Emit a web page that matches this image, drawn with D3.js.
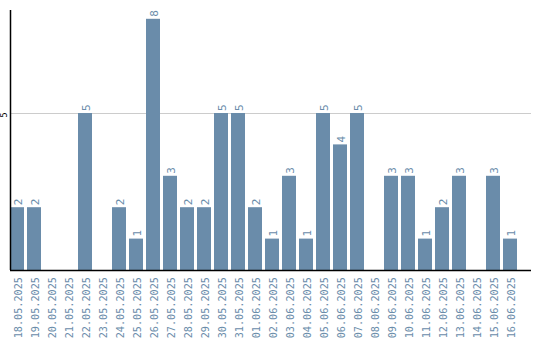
<!DOCTYPE html>
<html>
<head>
<meta charset="utf-8">
<script src="https://cdn.jsdelivr.net/npm/d3@7"></script>
<style>
  body { margin: 0; background: #fff; }
  svg { display: block; }
</style>
</head>
<body>
<div id="chart"></div>
<script>
var dates = ["18.05.2025","19.05.2025","20.05.2025","21.05.2025","22.05.2025","23.05.2025",
  "24.05.2025","25.05.2025","26.05.2025","27.05.2025","28.05.2025","29.05.2025","30.05.2025",
  "31.05.2025","01.06.2025","02.06.2025","03.06.2025","04.06.2025","05.06.2025","06.06.2025",
  "07.06.2025","08.06.2025","09.06.2025","10.06.2025","11.06.2025","12.06.2025","13.06.2025",
  "14.06.2025","15.06.2025","16.06.2025"]
var counts = [2,2,0,0,5,0,2,1,8,3,2,2,5,5,2,1,3,1,5,4,5,0,3,3,1,2,3,0,3,1]
var yTicks = [5]

var width = 540, height = 340
var barColor = "#6a8caa"

var svg = d3.select("#chart").append("svg")
    .attr("width", width)
    .attr("height", height)

// scales
var x = d3.scaleBand()
    .domain(dates)
    .range([10, 517])
    .paddingInner(3/17)
    .paddingOuter(0)

var y = d3.scaleLinear()
    .domain([0, 8.28])
    .range([270, 10])

// grid line(s)
svg.selectAll(".grid").data(yTicks).enter().append("line")
    .attr("class", "grid")
    .attr("x1", 10).attr("x2", 531)
    .attr("y1", function(d){ return Math.round(y(d)) + 0.5 })
    .attr("y2", function(d){ return Math.round(y(d)) + 0.5 })
    .attr("stroke", "#cccccc")
    .attr("stroke-width", 1)

// bars
svg.selectAll(".bar").data(counts).enter().append("rect")
    .attr("class", "bar")
    .attr("x", function(d, i){ return x(dates[i]) })
    .attr("y", function(d){ return y(d) })
    .attr("width", x.bandwidth())
    .attr("height", function(d){ return y(0) - y(d) })
    .attr("fill", barColor)

// value labels above bars (zeros get none)
counts.forEach(function(d, i){
    if (d === 0) return
    var cx = x(dates[i]) + x.bandwidth()/2
    svg.append("text")
        .attr("transform", "translate(" + (cx + 1) + "," + (y(d) - 2) + ") rotate(-90)")
        .attr("dy", "0.35em")
        .attr("text-anchor", "start")
        .style("font-family", "DejaVu Sans Mono, monospace")
        .style("font-size", "11px")
        .style("fill", barColor)
        .text(d)
})

// x tick labels, rotated
dates.forEach(function(d){
    var cx = x(d) + x.bandwidth()/2
    svg.append("text")
        .attr("transform", "translate(" + (cx + 1) + ",277) rotate(-90)")
        .attr("dy", "0.35em")
        .attr("text-anchor", "end")
        .style("font-family", "DejaVu Sans Mono, monospace")
        .style("font-size", "10.2px")
        .style("fill", barColor)
        .text(d)
})

// y tick labels
yTicks.forEach(function(t){
    svg.append("text")
        .attr("transform", "translate(4," + (y(t) + 2) + ") rotate(-90)")
        .attr("dy", "0.35em")
        .attr("text-anchor", "middle")
        .style("font-family", "DejaVu Sans, sans-serif")
        .style("font-size", "8px")
        .style("fill", "#000")
        .text(t)
})

// axis lines
svg.append("line")
    .attr("x1", 10.5).attr("x2", 10.5)
    .attr("y1", 10).attr("y2", 270)
    .attr("stroke", "#000").attr("stroke-width", 1.5)
svg.append("line")
    .attr("x1", 10).attr("x2", 531)
    .attr("y1", 270.5).attr("y2", 270.5)
    .attr("stroke", "#000").attr("stroke-width", 1.5)
</script>
</body>
</html>
